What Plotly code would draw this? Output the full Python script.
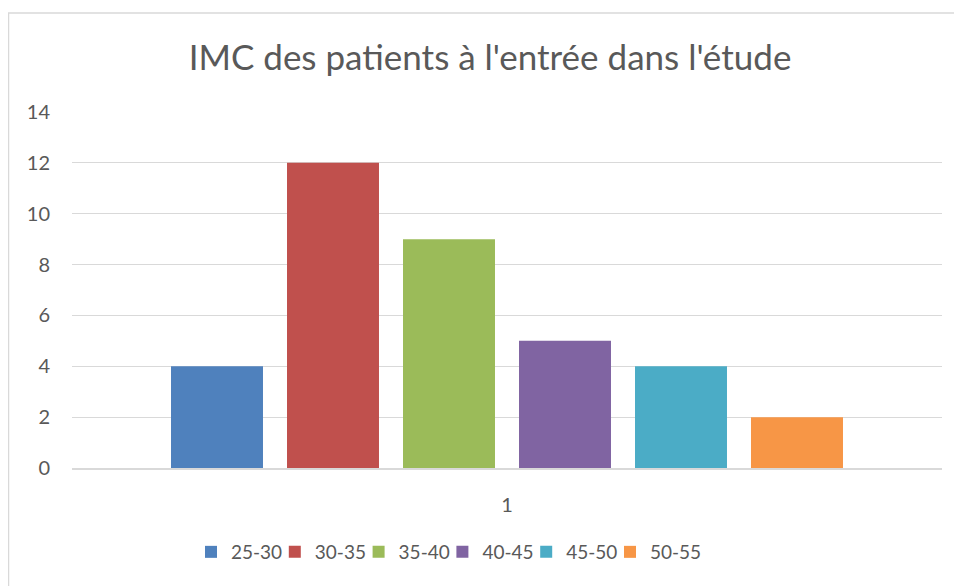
import plotly.graph_objects as go

categories = ["1"]
series_names = ["25-30", "30-35", "35-40", "40-45", "45-50", "50-55"]
series_values = [4, 12, 9, 5, 4, 2]
colors = ["#4F81BD", "#C0504D", "#9BBB59", "#8064A2", "#4BACC6", "#F79646"]
y_ticks = [0, 2, 4, 6, 8, 10, 12, 14]

font_family = "Lato, 'Open Sans', sans-serif"
W, H = 954, 578
L, R, T, B = 64, 20, 104, 118
pw = W - L - R
ph = H - T - B

fig = go.Figure()
legend_layouts = {}
for i, (name, val, col) in enumerate(zip(series_names, series_values, colors)):
    lname = "legend" if i == 0 else f"legend{i + 1}"
    fig.add_trace(go.Bar(x=categories, y=[val], name=name, legend=lname,
                         marker=dict(color=col, line=dict(width=0))))
    # legend entries spaced like the reference (one entry per legend box)
    text_start_page = 231 + 83.8 * i
    left_fig = text_start_page - 8 - 40
    legend_layouts[lname] = dict(
        x=(left_fig - L) / pw, xanchor="left", y=(460 - 544) / ph, yanchor="middle",
        font=dict(size=19, color="#595959"), itemwidth=30, bgcolor="rgba(0,0,0,0)",
    )

fig.update_layout(
    width=W, height=H,
    paper_bgcolor="white", plot_bgcolor="white",
    margin=dict(l=L, r=R, t=T, b=B, autoexpand=False),
    barmode="group", bargap=0.2, bargroupgap=0.207,
    title=dict(text="IMC des patients à l'entrée dans l'étude", x=(490 - 8) / W, xanchor="center",
               y=1 - 50 / H, yanchor="middle",
               font=dict(family=font_family, size=35, color="#595959")),
    font=dict(family=font_family, color="#595959"),
    xaxis=dict(type="category", showgrid=False, showline=True, linecolor="#D9D9D9", linewidth=1.5,
               ticks="", tickfont=dict(size=20, color="#595959"), ticklabelstandoff=18),
    yaxis=dict(range=[0, 14], tickvals=y_ticks, showgrid=True, gridcolor="#D9D9D9", gridwidth=1.2,
               zeroline=False, ticks="", tickfont=dict(size=20, color="#595959"), ticklabelstandoff=21),
    showlegend=True,
    shapes=[dict(type="rect", xref="paper", yref="paper",
                 x0=-(L - 0.5) / pw, x1=1.2, y0=-0.6, y1=1 + (T - 5) / ph,
                 line=dict(color="#D9D9D9", width=1.5), fillcolor="rgba(0,0,0,0)", layer="below")],
    **legend_layouts,
)

fig.write_html("out.html")
